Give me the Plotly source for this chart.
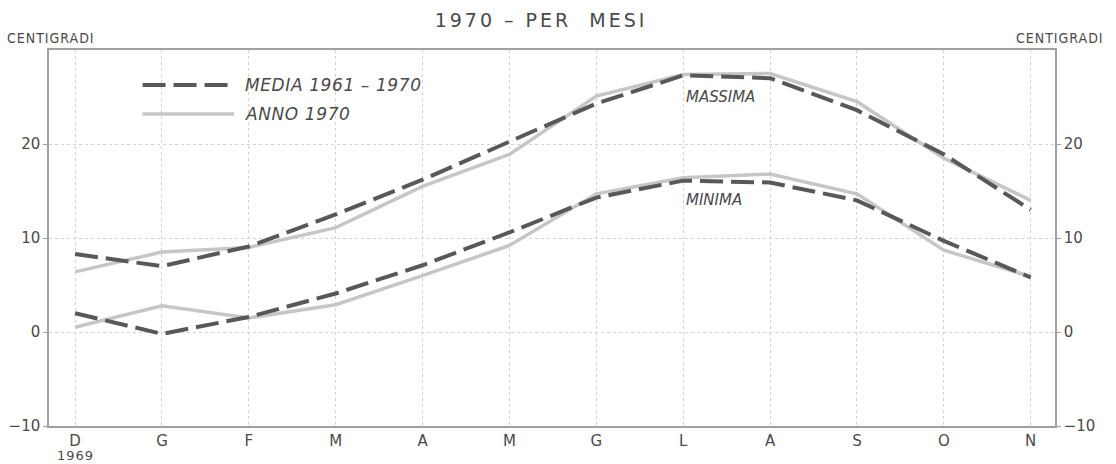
import plotly.graph_objects as go

# months, Dec 1969 .. Nov 1970
mesi = ["D", "G", "F", "M", "A", "M", "G", "L", "A", "S", "O", "N"]
pos = list(range(len(mesi)))
anno_prec = "1969"

media_max = [8.3, 7.0, 9.1, 12.5, 16.2, 20.3, 24.3, 27.3, 27.0, 23.6, 18.9, 13.0]
anno_max = [6.4, 8.5, 9.0, 11.1, 15.5, 18.9, 25.1, 27.4, 27.5, 24.5, 18.5, 14.0]
media_min = [2.0, -0.2, 1.6, 4.1, 7.1, 10.6, 14.3, 16.1, 15.9, 14.0, 9.7, 5.8]
anno_min = [0.5, 2.8, 1.5, 2.9, 6.0, 9.2, 14.7, 16.4, 16.8, 14.7, 8.7, 5.9]

y_ticks = [-10, 0, 10, 20]

FONT = "DejaVu Sans"
TXT = "#4a4a4a"
DARK = "#585858"
LIGHT = "#c6c6c6"
AXIS = "#a0a0a0"


def spaced(text, px):
    # wide lettering like the printed original
    return '<span style="letter-spacing:%spx">%s</span>' % (px, text)


fig = go.Figure()

solid = dict(color=LIGHT, width=3.5)
dashed = dict(color=DARK, width=4, dash="23px,8px")

fig.add_trace(go.Scatter(x=pos, y=anno_max, mode="lines", line=solid, showlegend=False))
fig.add_trace(go.Scatter(x=pos, y=anno_min, mode="lines", line=solid, showlegend=False))
fig.add_trace(go.Scatter(x=pos, y=media_max, mode="lines", line=dashed, showlegend=False))
fig.add_trace(go.Scatter(x=pos, y=media_min, mode="lines", line=dashed, showlegend=False))
# invisible trace just to get the right hand axis
fig.add_trace(go.Scatter(x=[pos[0]], y=[y_ticks[0]], yaxis="y2", mode="none",
                         showlegend=False, hoverinfo="skip"))

grid = dict(showgrid=True, gridcolor="#d2d2d2", griddash="dot", gridwidth=1)

fig.update_layout(
    width=1116, height=464,
    margin=dict(l=49, r=61, t=50, b=38),
    paper_bgcolor="white", plot_bgcolor="white",
    font=dict(family=FONT, color=TXT, size=15),
    title=dict(text=spaced("1970 – PER  MESI", 3), x=541 / 1116, xanchor="center",
               y=1 - 20 / 464, yanchor="middle", font=dict(size=19, family=FONT, color=TXT)),
    xaxis=dict(range=[-0.30, 11.28], tickmode="array", tickvals=pos, ticktext=mesi,
               showline=True, linecolor=AXIS, linewidth=1.5, mirror=True,
               ticks="", zeroline=False, automargin=False, **grid),
    yaxis=dict(range=[-10, 30], tickmode="array", tickvals=y_ticks,
               showline=True, linecolor=AXIS, linewidth=1.5,
               ticks="outside", ticklen=4, tickcolor=AXIS,
               zeroline=False, automargin=False, **grid),
    yaxis2=dict(range=[-10, 30], overlaying="y", side="right", tickmode="array",
                tickvals=y_ticks, showgrid=False, zeroline=False, automargin=False,
                showline=True, linecolor=AXIS, linewidth=1.5,
                ticks="outside", ticklen=4, tickcolor=AXIS),
)

# year under the first month
fig.add_annotation(text=spaced(anno_prec, 1), x=pos[0], xref="x", yref="paper", y=0,
                   yanchor="top", yshift=-20, showarrow=False,
                   font=dict(size=13, color=TXT))

# axis unit labels
unit_font = dict(size=14, color=TXT, family="DejaVu Sans Condensed")
fig.add_annotation(text=spaced("CENTIGRADI", 1), xref="paper", yref="paper", x=0, y=1,
                   xanchor="left", yanchor="bottom", xshift=-44, yshift=2,
                   showarrow=False, font=unit_font)
fig.add_annotation(text=spaced("CENTIGRADI", 1), xref="paper", yref="paper", x=1, y=1,
                   xanchor="right", yanchor="bottom", xshift=51, yshift=2,
                   showarrow=False, font=unit_font)

# hand drawn legend
fig.add_shape(type="line", xref="paper", yref="paper", x0=0.093, x1=0.184, y0=0.907, y1=0.907,
              line=dashed)
fig.add_shape(type="line", xref="paper", yref="paper", x0=0.093, x1=0.184, y0=0.830, y1=0.830,
              line=solid)
fig.add_annotation(text=spaced("<i>MEDIA 1961 – 1970</i>", 0.6), xref="paper", yref="paper",
                   x=0.193, y=0.907, xanchor="left", yanchor="middle", showarrow=False,
                   font=dict(size=17, color=TXT))
fig.add_annotation(text=spaced("<i>ANNO 1970</i>", 0.6), xref="paper", yref="paper",
                   x=0.193, y=0.830, xanchor="left", yanchor="middle", showarrow=False,
                   font=dict(size=17, color=TXT))

# curve labels
fig.add_annotation(text="<i>MASSIMA</i>", x=7.43, y=25.0, showarrow=False,
                   font=dict(size=15, color=TXT))
fig.add_annotation(text="<i>MINIMA</i>", x=7.35, y=14.0, showarrow=False,
                   font=dict(size=15, color=TXT))

# the page body has a default 8px margin, drop it so the figure fills the window
fig.write_html("out.html", config={"displayModeBar": False},
               post_script="document.body.style.margin='0px';")
